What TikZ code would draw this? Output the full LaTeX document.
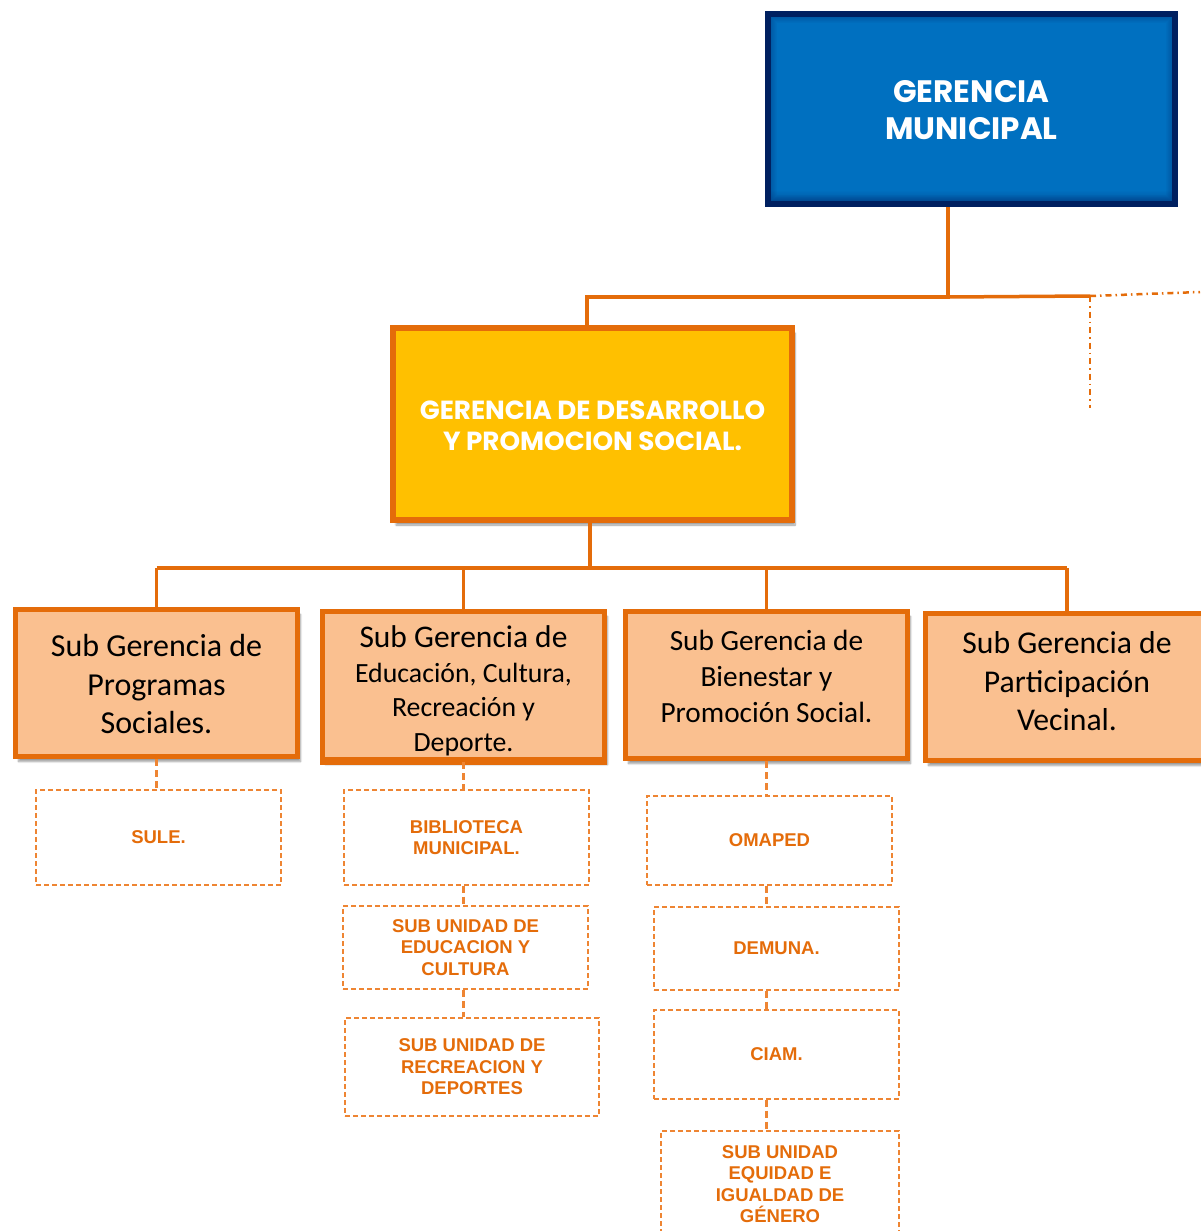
\documentclass[tikz,border=0pt]{standalone}
\usepackage{fontspec}
\setmainfont{Carlito}
\newfontfamily\headfont{Poppins}
\newfontfamily\unitfont{Liberation Sans}
\usetikzlibrary{shadows.blur}
\definecolor{navy}{HTML}{002060}
\definecolor{corpblue}{HTML}{0070C0}
\definecolor{gold}{HTML}{FFC000}
\definecolor{rust}{HTML}{E46C0A}
\definecolor{peach}{HTML}{FAC090}
\definecolor{dashorange}{HTML}{EE8533}
\tikzset{
  bus/.style={rust, line width=3.5pt},
  softshadow/.style={blur shadow={shadow xshift=3pt, shadow yshift=-5pt, shadow blur steps=8, shadow opacity=40}},
  topbox/.style={draw=navy, fill=corpblue, line width=6pt, inner sep=0pt},
  mainbox/.style={draw=rust, fill=gold, line width=6pt, inner sep=0pt, softshadow},
  subbox/.style={draw=rust, fill=peach, line width=5pt, inner sep=0pt, softshadow},
  subtext/.style={align=center, inner sep=0pt, text=black},
  headtext/.style={align=center, inner sep=0pt, text=white},
  unitbox/.style={draw=dashorange, line width=1.3pt, dash pattern=on 5pt off 3pt,
    align=center, text=rust, inner sep=0pt,
    font=\unitfont\bfseries\fontsize{18.5}{21.5}\selectfont},
  link/.style={dashorange, line width=2.2pt, dash pattern=on 7pt off 4pt},
  dashdot/.style={rust, line width=2.5pt, dash pattern=on 6pt off 4pt on 1.5pt off 4pt},
}
\begin{document}
\begin{tikzpicture}[x=1pt, y=-1pt]
\useasboundingbox (0,0) rectangle (1200,1231);

% ---- top level
\node[topbox, minimum width=407pt, minimum height=190pt] (gm) at (971.5,109) {};
\foreach \i [evaluate=\i as \op using 0.42*(1-\i/10)] in {1,...,9} {
  \draw[navy, opacity=\op, line width=1pt]
    ([xshift=\i pt+2.5pt, yshift=\i pt+2.5pt]gm.south west)
    rectangle ([xshift=-\i pt-2.5pt, yshift=-\i pt-2.5pt]gm.north east);
}
\foreach \i [evaluate=\i as \op using 0.35*(1-\i/14)] in {1,...,13} {
  \draw[navy, opacity=\op, line width=1pt]
    ([xshift=3pt, yshift=\i pt+2.5pt]gm.south west) -- ([xshift=-3pt, yshift=\i pt+2.5pt]gm.south east);
}
\node[headtext, font=\headfont\bfseries\fontsize{31}{37}\selectfont] (gmt) at (971.5,110) {GERENCIA\\MUNICIPAL};

% ---- social development management
\node[mainbox, minimum width=399pt, minimum height=192pt] (gd) at (592.5,424) {};
\node[headtext, font=\headfont\bfseries\fontsize{26.2}{31}\selectfont] (gdt) at (592.5,426) {GERENCIA DE DESARROLLO\\Y PROMOCION SOCIAL.};

% ---- links from the top box
\coordinate (j1) at (948,297);
\coordinate (j2) at (587,297);
\coordinate (d0) at (1090,296);
\coordinate (d1) at (1200,292);
\coordinate (d2) at (1090,408);
\draw[bus] (gm.south -| j1) -- (j1) -- (j2) -- (gd.north -| j2);
\draw[bus] (j1) -- (d0);
\draw[dashdot] (d0) -- (d1);
\draw[dashdot] (d0) -- (d2);

% ---- sub managements
\node[subbox, minimum width=282pt, minimum height=147pt] (s1) at (156.5,683) {};
\node[subbox, minimum width=282pt, minimum height=148pt] (s2) at (463.5,685.5) {};
\node[subbox, minimum width=282pt, minimum height=147pt] (s3) at (766.5,685) {};
\node[subbox, minimum width=283pt, minimum height=147pt] (s4) at (1067,687) {};

\node[subtext, font=\fontsize{32}{38.5}\selectfont] (s1t) at (156.5,684.5) {Sub Gerencia de\\Programas\\Sociales.};
\node[subtext, font=\fontsize{27.8}{34.5}\selectfont] (s2t) at (463.5,691) {{\fontsize{31.5}{34}\selectfont Sub Gerencia de}\\Educación, Cultura,\\Recreación y\\Deporte.};
\draw[rust, line width=5pt] (s2.south west) -- (s2.south east);
\node[subtext, font=\fontsize{29.3}{36}\selectfont] (s3t) at (766.5,676) {Sub Gerencia de\\Bienestar y\\Promoción Social.};
\node[subtext, font=\fontsize{31.7}{38.5}\selectfont] (s4t) at (1067,681.5) {Sub Gerencia de\\Participación\\Vecinal.};

\coordinate (b0) at (590,568);
\draw[bus] (gd.south -| b0) -- (b0);
\draw[bus] (s1.north |- b0) -- (s4.north |- b0);
\foreach \s in {s1,s2,s3,s4} \draw[bus] (\s.north |- b0) -- (\s.north);

% ---- units
\node[unitbox, minimum width=245pt, minimum height=95pt] (sule) at (158.5,837.5) {SULE.};
\node[unitbox, minimum width=245pt, minimum height=95pt] (bib) at (466.5,837.5) {BIBLIOTECA\\MUNICIPAL.};
\node[unitbox, minimum width=245pt, minimum height=83pt] (edu) at (465.5,947.5) {SUB UNIDAD DE\\EDUCACION Y\\CULTURA};
\node[unitbox, minimum width=254pt, minimum height=98pt] (rec) at (472,1067) {SUB UNIDAD DE\\RECREACION Y\\DEPORTES};
\node[unitbox, minimum width=245pt, minimum height=89pt] (omaped) at (769.5,840.5) {OMAPED};
\node[unitbox, minimum width=245pt, minimum height=83pt] (demuna) at (776.5,948.5) {DEMUNA.};
\node[unitbox, minimum width=245pt, minimum height=89pt] (ciam) at (776.5,1054.5) {CIAM.};
\node[unitbox, minimum width=238pt, minimum height=106pt] (equidad) at (780,1184) {SUB UNIDAD\\EQUIDAD E\\IGUALDAD DE\\GÉNERO};

\draw[link] (s1.south) -- (s1.south |- sule.north);
\draw[link] (s2.south) -- (s2.south |- bib.north);
\draw[link] (s2.south |- bib.south) -- (s2.south |- edu.north);
\draw[link] (s2.south |- edu.south) -- (s2.south |- rec.north);
\draw[link] (s3.south) -- (s3.south |- omaped.north);
\draw[link] (s3.south |- omaped.south) -- (s3.south |- demuna.north);
\draw[link] (s3.south |- demuna.south) -- (s3.south |- ciam.north);
\draw[link] (s3.south |- ciam.south) -- (s3.south |- equidad.north);
\end{tikzpicture}
\end{document}
